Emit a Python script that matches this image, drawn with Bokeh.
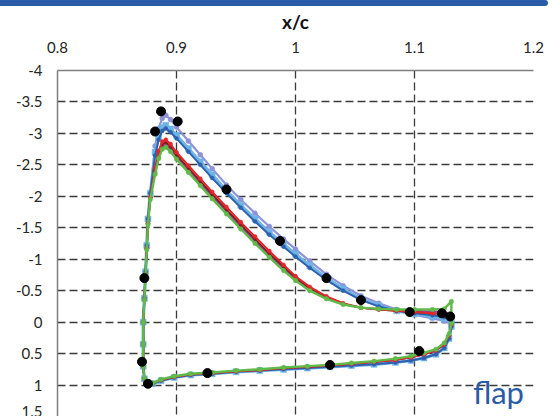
from bokeh.plotting import figure
from bokeh.models import Range1d, FixedTicker, Label, Div
from bokeh.layouts import column
from bokeh.embed import file_html
from bokeh.resources import INLINE

# Axis ticks and their printed labels
X_TICKS = [0.8, 0.9, 1.0, 1.1, 1.2]
X_TICK_LABELS = ["0.8", "0.9", "1", "1.1", "1.2"]
Y_TICKS = [-4.0, -3.5, -3.0, -2.5, -2.0, -1.5, -1.0, -0.5, 0.0, 0.5, 1.0, 1.5]
Y_TICK_LABELS = ["-4", "-3.5", "-3", "-2.5", "-2", "-1.5", "-1", "-0.5", "0", "0.5", "1", "1.5"]

# Flap pressure side: trailing edge -> stagnation -> up the leading edge
LOWER_X = [1.131, 1.129, 1.125, 1.118, 1.108, 1.097, 1.084, 1.066, 1.047, 1.029,
           1.010, 0.990, 0.970, 0.950, 0.930, 0.912, 0.898, 0.887, 0.880, 0.876,
           0.873, 0.872, 0.872, 0.872, 0.873, 0.874, 0.875, 0.876, 0.878]
LOWER_CP_GREEN = [0.02, 0.19, 0.33, 0.43, 0.49, 0.54, 0.58, 0.62, 0.65, 0.68,
                  0.70, 0.72, 0.75, 0.77, 0.80, 0.82, 0.86, 0.91, 0.97, 0.99,
                  0.90, 0.70, 0.35, 0.00, -0.35, -0.75, -1.15, -1.55, -1.95]
LOWER_CP_RED = [0.04, 0.21, 0.35, 0.45, 0.51, 0.56, 0.60, 0.63, 0.66, 0.69,
                0.71, 0.73, 0.76, 0.78, 0.81, 0.83, 0.87, 0.92, 0.97, 0.99,
                0.90, 0.70, 0.35, 0.00, -0.36, -0.76, -1.17, -1.57, -1.98]
LOWER_CP_BLUE = [0.07, 0.26, 0.41, 0.51, 0.57, 0.61, 0.64, 0.67, 0.69, 0.71,
                 0.73, 0.75, 0.77, 0.79, 0.82, 0.84, 0.88, 0.93, 0.98, 0.99,
                 0.90, 0.70, 0.35, 0.00, -0.38, -0.80, -1.22, -1.64, -2.05]

# Flap suction side: suction peak -> trailing edge
UPPER_X = [0.882, 0.885, 0.888, 0.891, 0.895, 0.900, 0.910, 0.920, 0.930, 0.942,
           0.954, 0.966, 0.978, 0.990, 1.000, 1.012, 1.026, 1.040, 1.055, 1.070,
           1.085, 1.100, 1.115, 1.125, 1.131]
UPPER_CP_LAVENDER = [-2.80, -3.08, -3.24, -3.29, -3.22, -3.10, -2.88, -2.66, -2.44, -2.18,
                     -1.95, -1.73, -1.52, -1.32, -1.16, -0.97, -0.76, -0.58, -0.42, -0.30,
                     -0.20, -0.12, -0.06, -0.02, 0.02]
UPPER_CP_LIGHTBLUE = [-2.70, -2.95, -3.09, -3.13, -3.07, -2.97, -2.76, -2.55, -2.34, -2.09,
                      -1.86, -1.64, -1.43, -1.24, -1.08, -0.90, -0.70, -0.53, -0.37, -0.26,
                      -0.18, -0.13, -0.09, -0.06, -0.02]
UPPER_CP_BLUE = [-2.65, -2.90, -3.04, -3.08, -3.02, -2.92, -2.71, -2.50, -2.29, -2.05,
                 -1.82, -1.60, -1.39, -1.20, -1.04, -0.86, -0.67, -0.50, -0.35, -0.25,
                 -0.18, -0.14, -0.11, -0.08, -0.05]
UPPER_CP_PURPLE = [-2.38, -2.64, -2.79, -2.82, -2.75, -2.63, -2.42, -2.21, -2.00, -1.76,
                   -1.52, -1.29, -1.06, -0.85, -0.69, -0.52, -0.39, -0.29, -0.23, -0.21,
                   -0.19, -0.18, -0.17, -0.16, -0.12]
UPPER_CP_DARKRED = [-2.41, -2.68, -2.83, -2.86, -2.79, -2.66, -2.45, -2.24, -2.03, -1.79,
                    -1.55, -1.32, -1.09, -0.88, -0.71, -0.54, -0.40, -0.29, -0.23, -0.20,
                    -0.18, -0.16, -0.14, -0.13, -0.10]
UPPER_CP_RED = [-2.45, -2.72, -2.87, -2.90, -2.83, -2.70, -2.49, -2.28, -2.07, -1.83,
                -1.59, -1.36, -1.13, -0.91, -0.73, -0.56, -0.41, -0.30, -0.23, -0.20,
                -0.18, -0.16, -0.14, -0.13, -0.10]
UPPER_CP_GREEN = [-2.35, -2.60, -2.75, -2.78, -2.71, -2.59, -2.38, -2.17, -1.96, -1.72,
                  -1.48, -1.25, -1.03, -0.82, -0.66, -0.50, -0.37, -0.28, -0.23, -0.21,
                  -0.20, -0.20, -0.20, -0.21, -0.33]

# Wind-tunnel pressure taps
EXP_X = [0.887, 0.882, 0.901, 0.942, 0.987, 1.026, 1.055, 1.096, 1.123, 1.130,
         1.104, 1.029, 0.926, 0.876, 0.871, 0.873]
EXP_CP = [-3.35, -3.03, -3.19, -2.11, -1.29, -0.70, -0.35, -0.16, -0.14, -0.09,
          0.46, 0.68, 0.81, 0.98, 0.63, -0.70]

FONT = "Lato"
TEXT_COLOR = "#262626"

p = figure(width=553, height=410,
           x_range=Range1d(0.8, 1.2), y_range=Range1d(1.5, -4.0),
           x_axis_location="above",
           output_backend="svg", toolbar_location=None,
           min_border_left=57, min_border_right=20,
           min_border_top=64, min_border_bottom=0)
p.outline_line_color = None
p.background_fill_color = "white"

# Axes
p.xaxis.ticker = FixedTicker(ticks=X_TICKS)
p.xaxis.major_label_overrides = dict(zip(X_TICKS, X_TICK_LABELS))
p.yaxis.ticker = FixedTicker(ticks=Y_TICKS)
p.yaxis.major_label_overrides = dict(zip(Y_TICKS, Y_TICK_LABELS))
p.xaxis.axis_label = "x/c"
p.xaxis.axis_label_text_font = FONT
p.xaxis.axis_label_text_font_style = "bold"
p.xaxis.axis_label_text_font_size = "19px"
p.xaxis.axis_label_text_color = "#111111"
p.xaxis.axis_label_standoff = 6
for ax in (p.xaxis, p.yaxis):
    ax.major_label_text_font = FONT
    ax.major_label_text_font_size = "15px"
    ax.major_label_text_color = TEXT_COLOR
    ax.major_tick_out = 0
    ax.major_tick_in = 0
    ax.minor_tick_out = 0
    ax.minor_tick_in = 0
    ax.axis_line_color = "#7f7f7f"
    ax.axis_line_width = 1.5
p.xaxis.major_label_standoff = 18
p.yaxis.major_label_standoff = 15

# Dashed grid
for g in (p.xgrid, p.ygrid):
    g.grid_line_color = "#3a3a3a"
    g.grid_line_dash = "8 4"
    g.grid_line_width = 1.3
p.xgrid.ticker = FixedTicker(ticks=X_TICKS)
p.ygrid.ticker = FixedTicker(ticks=Y_TICKS)

series = [
    ("#8E92D9", LOWER_CP_BLUE, UPPER_CP_LAVENDER, 2.2, 5, "circle"),
    ("#6CB4E4", LOWER_CP_BLUE, UPPER_CP_LIGHTBLUE, 3.2, 6, "square"),
    ("#2E60B0", LOWER_CP_BLUE, UPPER_CP_BLUE, 2.0, 4, "circle"),
    ("#9C3D9C", LOWER_CP_RED, UPPER_CP_PURPLE, 2.0, 4, "circle"),
    ("#7A1E24", LOWER_CP_RED, UPPER_CP_DARKRED, 1.8, 3.5, "circle"),
    ("#E3262B", LOWER_CP_RED, UPPER_CP_RED, 2.0, 4, "circle"),
    ("#5FBA47", LOWER_CP_GREEN, UPPER_CP_GREEN, 2.4, 4.5, "circle"),
]
for color, lower_cp, upper_cp, lw, ms, marker in series:
    xs = LOWER_X + UPPER_X
    cps = lower_cp + upper_cp
    # closed contour around the flap section
    p.line(xs + xs[:1], cps + cps[:1], line_color=color, line_width=lw)
    p.scatter(xs, cps, marker=marker, size=ms, fill_color=color,
              line_color=color, line_width=0.5)

p.scatter(EXP_X, EXP_CP, marker="circle", size=9, fill_color="black",
          line_color="black")

p.add_layout(Label(x=1.192, y=1.11, text="flap", text_align="right",
                   text_baseline="alphabetic", text_font=FONT,
                   text_font_size="31px", text_color="#2A5BA8"))

band = Div(width=548, height=6, margin=(0, 0, 0, 0),
           styles={"background-color": "#2A5BA8",
                   "border-radius": "0 3px 3px 0"})

layout = column(band, p, spacing=0)
open("out.html", "w").write(file_html(layout, INLINE))
